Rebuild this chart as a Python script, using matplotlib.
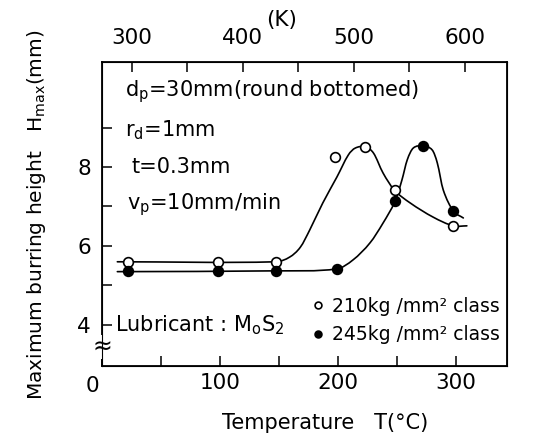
import matplotlib
matplotlib.use("Agg")
import matplotlib.pyplot as plt
import matplotlib.transforms as mtransforms
from matplotlib.path import Path
from matplotlib.patches import PathPatch

plt.rcParams['font.family'] = ['DejaVu Sans']
plt.rcParams['mathtext.default'] = 'regular'

# measured points (Temperature degC, Hmax mm)
t_210 = [22, 98, 147, 197.5, 223, 248, 297]
h_210 = [5.6, 5.6, 5.6, 8.25, 8.5, 7.42, 6.51]
t_245 = [22, 98, 147, 199, 248, 272, 297]
h_245 = [5.37, 5.37, 5.37, 5.42, 7.14, 8.52, 6.88]

# hand-drawn trend curves
ct_210 = [13, 147.5, 159, 168, 176, 187, 199, 208.5, 214.5, 223, 230, 238, 247.5, 261, 280.5, 297.5, 309]
ch_210 = [5.6, 5.6, 5.72, 5.97, 6.41, 7.09, 7.75, 8.30, 8.48, 8.51, 8.35, 7.85, 7.42, 7.09, 6.73, 6.51, 6.51]
ct_245 = [13, 147, 199, 212.7, 227, 238, 248.3, 254, 258.5, 263.6, 272, 279.7, 284, 289, 297.5, 306]
ch_245 = [5.35, 5.37, 5.42, 5.65, 6.08, 6.58, 7.14, 7.67, 8.18, 8.48, 8.53, 8.43, 8.10, 7.42, 6.89, 6.71]

labels = ["210kg /mm² class", "245kg /mm² class"]


def smooth_path(xs, ys):
    """Cubic Hermite (Bezier) path through the given knots, x increasing."""
    n = len(xs)
    m = []
    for i in range(n):
        if i == 0:
            m.append((ys[1] - ys[0]) / (xs[1] - xs[0]))
        elif i == n - 1:
            m.append((ys[-1] - ys[-2]) / (xs[-1] - xs[-2]))
        else:
            m.append((ys[i + 1] - ys[i - 1]) / (xs[i + 1] - xs[i - 1]))
    verts = [(xs[0], ys[0])]
    codes = [Path.MOVETO]
    for i in range(n - 1):
        dx = xs[i + 1] - xs[i]
        c1 = (xs[i] + dx / 3, ys[i] + m[i] * dx / 3)
        c2 = (xs[i + 1] - dx / 3, ys[i + 1] - m[i + 1] * dx / 3)
        verts += [c1, c2, (xs[i + 1], ys[i + 1])]
        codes += [Path.CURVE4] * 3
    return Path(verts, codes)


fig = plt.figure(figsize=(5.42, 4.41), dpi=100)
ax = fig.add_axes([102/542, 1-366/441, 405/542, 304/441])

for cx, cy in ((ct_210, ch_210), (ct_245, ch_245)):
    ax.add_patch(PathPatch(smooth_path(cx, cy), facecolor='none', edgecolor='black',
                           lw=1.2, zorder=2, capstyle='round'))
ax.plot(t_210, h_210, 'o', ms=7, mfc='white', mec='black', mew=1.2, zorder=3, label=labels[0])
ax.plot(t_245, h_245, 'o', ms=7, mfc='black', mec='black', mew=1.2, zorder=3, label=labels[1])

ax.set_xlim(0, 343)
ax.set_ylim(2.96, 10.66)
ax.set_xticks([0, 100, 200, 300])
ax.set_xticks([50, 150, 250], minor=True)
ax.set_yticks([4, 6, 8])
ax.set_yticks([5, 7, 9], minor=True)
ax.tick_params(axis='both', which='both', direction='in', width=1.1, labelsize=15.5)
ax.tick_params(axis='both', which='both', length=7)
ax.tick_params(axis='x', pad=5)
ax.tick_params(axis='y', pad=8)
for s in ax.spines.values():
    s.set_linewidth(1.3)

# shift "0" label a bit left
lbl0 = ax.get_xticklabels()[0]
lbl0.set_transform(lbl0.get_transform() + mtransforms.ScaledTranslation(-10/100, -3/100, fig.dpi_scale_trans))

# axis break mark
ax.text(0, 3.45, "≈", fontsize=17, ha='center', va='center', transform=ax.transData,
        bbox=dict(facecolor='white', edgecolor='none', pad=0), zorder=5, clip_on=False)

# top Kelvin axis
ax2 = ax.twiny()
ax2.set_xlim(273, 273 + 343*1.064)
ax2.set_xticks([300, 400, 500, 600])
ax2.set_xticks([350, 450, 550], minor=True)
ax2.tick_params(axis='x', which='both', direction='in', length=7, width=1.1, labelsize=15.5, pad=10)

# annotations
fs = 15
ax.text(19.5, 9.9, r"d$_{\rm p}$=30mm(round bottomed)", fontsize=fs, va='center', ha='left')
ax.text(19.5, 8.94, r"r$_{\rm d}$=1mm", fontsize=fs, va='center', ha='left')
ax.text(25, 8.0, "t=0.3mm", fontsize=fs, va='center', ha='left')
ax.text(21, 7.04, r"v$_{\rm p}$=10mm/min", fontsize=fs, va='center', ha='left')
ax.text(11, 4.0, r"Lubricant : M$_{\rm o}$S$_2$", fontsize=fs, va='center', ha='left')

leg = ax.legend(loc='center left', frameon=False, fontsize=13.5, handlelength=0.8, handletextpad=0.4,
                labelspacing=0.5, borderpad=0, borderaxespad=0, markerscale=0.7)
leg.set_bbox_to_anchor(((310-102)/405, (366-320.5)/304), transform=ax.transAxes)

fig.text(282/542, 1-20/441, "(K)", fontsize=15.5, ha='center', va='center')
fig.text(325/542, 1-423/441, "Temperature   T(°C)", fontsize=15, ha='center', va='center')
fig.text(37/542, 1-215/441, r"Maximum burring height   H$_{\rm max}$(mm)", fontsize=14.5,
         rotation=90, ha='center', va='center')

fig.savefig("out.png", dpi=100)
